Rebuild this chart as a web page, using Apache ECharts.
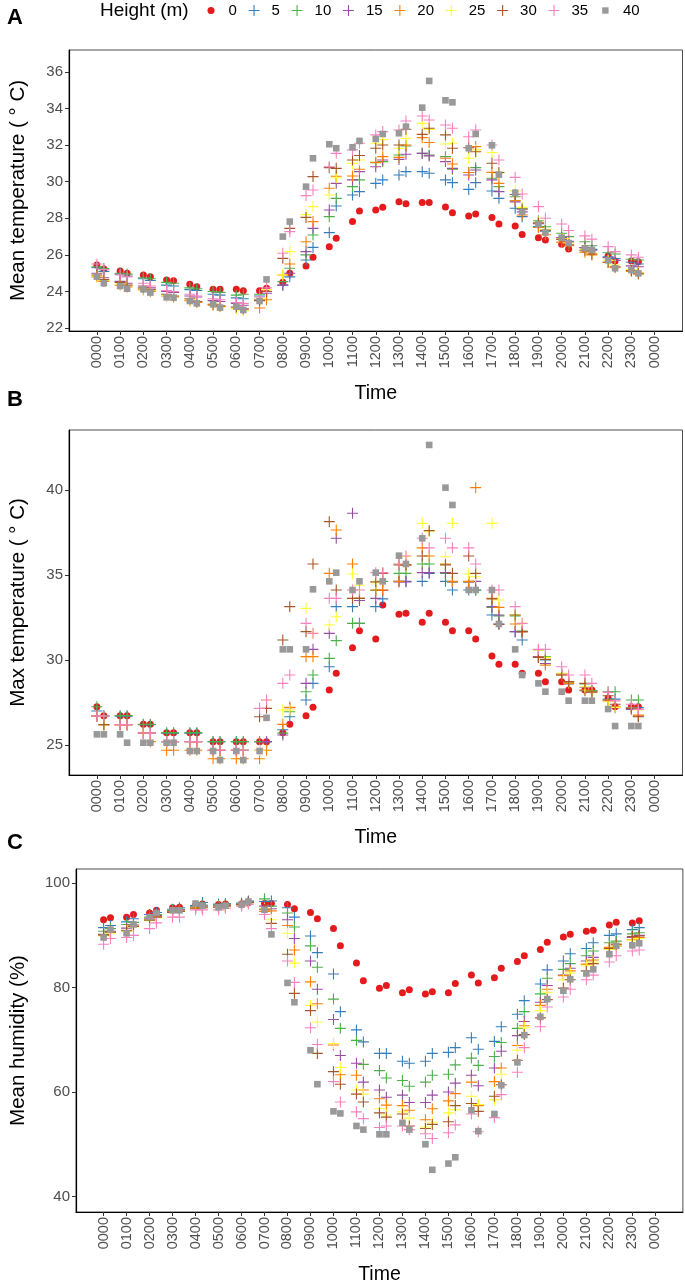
<!DOCTYPE html>
<html><head><meta charset="utf-8">
<script src="https://cdn.jsdelivr.net/npm/echarts@6/dist/echarts.min.js"></script>
<style>html,body{margin:0;padding:0;background:#fff}#c{width:685px;height:1286px}</style>
</head><body><div id="c"></div>
<script>
// ---------- data ----------
const times = ['0000','0030','0100','0130','0200','0230','0300','0330','0400','0430','0500','0530','0600','0630','0700','0730','0800','0830','0900','0930','1000','1030','1100','1130','1200','1230','1300','1330','1400','1430','1500','1530','1600','1630','1700','1730','1800','1830','1900','1930','2000','2030','2100','2130','2200','2230','2300','2330'];
const heights = ['0','5','10','15','20','25','30','35','40'];
const xTickValues = [0,100,200,300,400,500,600,700,800,900,1000,1100,1200,1300,1400,1500,1600,1700,1800,1900,2000,2100,2200,2300,2400];
const xTickLabels = ['0000','0100','0200','0300','0400','0500','0600','0700','0800','0900','1000','1100','1200','1300','1400','1500','1600','1700','1800','1900','2000','2100','2200','2300','0000'];
const yTicksMean = [22,24,26,28,30,32,34,36];
const yTicksMax = [25,30,35,40];
const yTicksHum = [40,60,80,100];

// Panel A: mean temperature
const meanT_0 = [25.45,25.23,25.12,24.99,24.90,24.81,24.63,24.59,24.39,24.26,24.12,24.12,24.12,24.04,24.04,24.17,24.50,24.99,25.39,25.87,26.45,26.91,27.82,28.40,28.45,28.60,28.91,28.80,28.86,28.87,28.62,28.30,28.13,28.24,28.04,27.69,27.58,27.12,26.94,26.81,26.58,26.32,26.30,26.16,25.94,25.67,25.67,25.63];
const meanT_5 = [25.3,25.1,24.95,24.85,24.7,24.6,24.35,24.3,24.1,24.05,23.85,23.8,23.65,23.6,23.75,24.0,24.35,24.8,25.72,26.41,27.22,28.67,29.27,29.46,29.91,30.10,30.37,30.55,30.55,30.46,30.10,29.95,29.58,29.95,29.49,29.09,28.55,28.09,27.55,27.3,26.9,26.7,26.4,26.3,25.9,25.8,25.6,25.5];
const meanT_10 = [25.35,25.25,25.0,24.95,24.75,24.7,24.5,24.45,24.2,24.15,24.0,23.95,23.8,23.85,23.85,24.1,24.54,25.27,26.0,27.09,28.09,29.09,29.73,30.1,31.04,31.1,31.46,31.95,31.55,31.46,31.37,30.68,30.50,30.77,30.19,29.73,29.18,28.55,27.87,27.54,27.18,27.0,26.72,26.5,26.12,26.05,25.76,25.72];
const meanT_15 = [25.0,24.75,24.55,24.45,24.3,24.2,24.0,23.95,23.75,23.7,23.5,23.45,23.35,23.25,23.55,23.9,24.35,25.0,26.18,27.45,28.45,29.91,30.1,30.55,30.82,31.19,31.22,31.5,31.55,31.41,31.10,30.73,30.37,30.64,30.1,29.46,28.9,28.35,27.7,27.35,26.95,26.75,26.4,26.25,25.85,25.7,25.4,25.35];
const meanT_20 = [24.8,24.55,24.35,24.25,24.1,24.0,23.75,23.7,23.5,23.4,23.25,23.2,23.1,23.0,23.1,23.55,24.9,25.5,26.72,27.82,29.64,30.3,30.31,30.68,31.06,31.37,31.33,32.01,32.41,32.14,31.28,30.97,30.50,31.92,30.51,29.91,28.97,28.18,27.5,27.1,26.7,26.5,26.15,26.0,25.6,25.3,25.1,24.95];
const meanT_25 = [24.85,24.6,24.4,24.3,24.15,24.05,23.8,23.75,23.55,23.45,23.3,23.15,23.05,22.95,23.6,24.1,24.9,26.18,28.2,28.64,29.27,30.22,31.0,31.19,32.1,32.3,31.83,32.37,33.19,32.86,32.06,32.1,31.28,31.74,31.6,30.46,29.5,28.6,27.8,27.4,26.9,26.65,26.3,26.1,25.7,25.45,25.2,25.05];
const meanT_30 = [24.9,24.65,24.5,24.35,24.2,24.1,23.85,23.75,23.6,23.45,23.3,23.2,23.15,23.05,23.5,24.0,25.81,27.45,28.05,30.28,30.77,30.73,31.19,31.43,31.83,32.01,32.01,32.87,32.59,32.92,32.56,31.83,31.86,31.64,31.01,30.50,29.3,28.5,27.75,27.35,26.85,26.55,26.25,26.05,25.6,25.35,25.15,25.0];
const meanT_35 = [25.5,25.2,24.9,24.8,24.45,24.3,24.05,24.0,23.85,23.75,23.6,23.55,23.4,23.35,23.7,24.2,26.09,27.27,29.24,29.55,30.82,31.55,31.74,32.1,32.56,32.74,32.83,33.32,33.59,33.37,33.10,32.92,32.46,32.83,32.01,31.19,30.24,29.33,28.64,28.00,27.69,27.33,27.04,26.86,26.45,26.18,26.0,25.87];
const meanT_40 = [24.81,24.45,24.30,24.15,24.12,23.94,23.68,23.66,23.48,23.35,23.30,23.12,23.17,22.99,23.48,24.66,27.0,27.82,29.73,31.28,32.05,31.83,31.88,32.23,32.34,32.61,32.65,33.01,34.05,35.51,34.45,34.34,31.83,32.61,31.99,30.39,29.40,28.35,27.67,27.22,26.94,26.65,26.36,26.27,25.70,25.27,25.17,24.99];

// Panel B: max temperature
const maxT_0 = [27.25,26.73,26.73,26.73,26.22,26.22,25.73,25.73,25.73,25.73,25.20,25.20,25.20,25.20,25.20,25.20,25.73,26.22,26.73,27.22,28.24,29.22,30.73,31.73,31.24,33.24,32.70,32.75,32.22,32.75,32.22,31.73,31.73,31.24,30.24,29.75,29.75,29.22,29.22,28.73,28.73,28.24,28.24,28.24,27.75,27.25,27.25,27.25];
const maxT_5 = [27.0,26.7,26.7,26.7,26.2,26.2,25.7,25.7,25.7,25.7,25.2,25.2,25.2,25.2,25.2,25.2,25.9,26.67,27.65,28.63,29.61,33.14,33.14,32.16,33.14,33.6,34.63,34.63,34.63,35.1,34.63,34.12,34.12,34.12,32.65,32.12,31.67,31.18,30.2,30.0,29.2,28.7,28.2,28.2,27.7,27.7,27.2,27.2];
const maxT_10 = [27.25,26.73,26.73,26.73,26.22,26.22,25.73,25.73,25.73,25.73,25.2,25.2,25.2,25.2,25.2,25.2,25.7,26.96,28.14,29.12,30.1,31.14,32.16,32.16,34.1,34.63,35.1,35.1,35.65,35.65,35.1,34.6,34.6,34.1,33.1,32.6,32.6,31.7,30.6,30.2,29.2,28.7,28.6,28.2,28.14,28.14,27.65,27.65];
const maxT_15 = [26.7,26.2,26.2,26.2,25.7,25.7,25.2,25.2,25.2,25.2,24.7,24.7,24.7,24.7,24.7,25.2,25.59,27.2,28.63,30.63,31.57,37.16,38.63,33.5,33.63,34.1,34.6,34.6,35.14,35.14,35.14,34.6,34.6,34.63,33.14,32.65,31.67,31.67,30.2,29.8,29.2,28.6,28.4,28.1,27.6,27.2,27.1,26.7];
const maxT_20 = [26.7,26.2,26.2,26.2,25.7,25.2,24.7,24.7,24.7,24.7,24.2,24.2,24.2,24.2,24.2,24.7,26.22,27.22,30.2,30.2,35.1,37.65,35.65,33.63,34.12,34.12,34.63,35.6,36.6,36.12,35.65,34.63,34.63,40.14,33.63,33.1,32.12,31.67,30.16,29.7,29.12,28.63,28.24,28.14,27.65,27.25,27.16,26.76];
const maxT_25 = [26.7,26.2,26.2,26.2,25.7,25.7,25.2,25.2,25.2,25.2,24.7,24.7,24.7,24.7,24.7,27.65,27.06,27.06,33.04,31.57,32.06,32.55,35.06,34.4,34.55,35.14,35.65,36.1,38.04,37.55,36.08,38.04,35.06,34.9,38.04,33.53,32.65,32.16,30.59,30.16,29.22,28.73,28.43,28.14,27.55,27.22,27.16,27.06];
const maxT_30 = [26.7,26.2,26.2,26.2,25.7,25.7,25.2,25.2,25.2,25.2,24.7,24.7,24.7,24.7,26.67,27.16,31.18,33.14,31.67,35.65,38.14,34.12,33.63,33.63,34.6,35.1,35.6,35.6,36.12,37.61,35.6,35.1,36.12,35.1,33.6,32.1,32.65,31.67,30.16,30.04,29.12,28.73,28.63,28.14,27.9,27.4,27.16,26.67];
const maxT_35 = [26.7,26.7,26.2,26.2,25.7,25.7,25.2,25.2,25.2,25.2,24.7,24.7,24.7,24.7,27.16,27.65,28.63,29.12,32.16,31.57,33.63,33.63,34.12,34.12,35.14,35.14,35.65,36.12,37.16,36.6,37.16,36.6,36.6,35.65,34.12,34.12,33.14,32.16,30.63,30.63,29.61,29.12,29.12,28.63,28.1,27.6,27.4,27.1];
const maxT_40 = [25.63,25.63,25.63,25.14,25.14,25.14,25.14,25.14,24.65,24.65,24.65,24.12,24.65,24.12,24.65,26.6,30.63,30.63,30.63,34.16,34.63,35.14,34.12,34.63,35.14,34.63,36.14,35.65,37.16,42.65,40.14,39.12,34.12,34.12,34.12,32.12,30.63,29.12,28.63,28.14,28.14,27.61,27.61,27.61,27.12,26.12,26.12,26.12];

// Panel C: mean humidity
const hum_0 = [93.0,93.4,93.5,94.0,94.3,94.8,95.3,95.4,95.8,96.0,95.9,96.0,96.0,96.3,96.1,96.1,95.9,95.1,94.4,93.2,91.3,88.0,84.7,81.3,79.9,80.4,79.0,79.6,78.8,79.2,79.0,80.8,82.4,80.9,81.9,83.7,85.0,86.1,87.3,88.7,89.7,90.2,90.8,91.0,92.0,92.5,92.4,92.8];
const hum_5 = [91.5,91.9,92.6,93.2,94.0,94.4,95.0,95.3,95.7,96.3,96.0,96.1,96.0,96.6,96.5,96.6,95.3,93.5,89.9,86.7,82.6,75.4,71.9,69.6,67.4,67.4,65.9,65.5,65.9,67.4,67.6,68.5,70.4,68.2,69.7,72.5,74.9,77.5,80.7,83.4,85.1,86.5,87.5,88.6,90.0,90.3,91.1,91.5];
const hum_10 = [90.8,91.3,92.1,92.5,93.5,94.0,94.8,95.0,95.5,95.8,95.8,96.0,96.2,96.5,97.0,95.6,94.3,91.6,88.0,83.9,77.8,72.2,69.9,65.3,64.1,62.7,62.2,61.1,61.9,63.2,63.4,65.2,66.5,65.1,66.8,69.5,72.2,75.4,78.8,81.8,83.5,84.6,86.1,87.0,88.6,88.9,90.3,90.5];
const hum_15 = [90.2,90.8,91.4,92.0,93.2,93.8,94.6,94.9,95.4,95.6,95.6,95.8,96.0,96.4,95.6,95.1,93.0,89.4,85.1,79.7,73.9,67.0,65.5,61.9,60.4,59.0,59.4,58.0,58.0,59.4,60.0,61.7,63.2,61.2,64.6,67.8,70.8,73.5,77.2,80.4,82.4,83.7,85.1,85.8,87.3,88.0,89.6,90.0];
const hum_20 = [90.0,90.6,91.0,91.8,93.0,93.6,94.5,94.7,95.3,95.4,95.5,95.6,95.9,96.3,94.6,94.7,91.9,87.2,81.1,76.9,69.0,63.3,63.2,60.4,58.7,57.5,57.4,56.5,54.7,56.8,58.3,59.7,61.9,57.4,62.0,64.6,68.9,72.7,76.6,79.7,82.3,83.2,84.5,85.3,87.7,88.3,89.2,89.6];
const hum_25 = [89.9,90.4,90.8,91.6,92.8,93.4,94.4,94.6,95.2,95.3,95.4,95.5,95.8,96.2,95.2,93.0,90.4,84.7,76.6,73.4,69.3,64.7,60.4,59.6,56.8,55.6,56.2,55.0,53.3,54.2,56.0,56.6,59.2,57.6,58.5,63.4,68.0,72.3,75.6,79.1,81.5,82.8,84.2,84.9,87.3,88.0,89.1,89.4];
const hum_30 = [90.1,90.6,90.9,91.7,92.9,93.5,94.4,94.6,95.2,95.3,95.4,95.6,95.9,96.3,95.0,92.3,86.4,78.9,75.6,67.4,63.9,61.5,59.6,58.1,56.0,55.2,55.8,53.5,53.0,53.8,54.3,57.4,57.8,56.3,59.2,61.4,66.1,71.0,74.2,77.7,79.9,81.5,83.2,84.6,87.5,88.3,89.8,89.9];
const hum_35 = [88.3,89.4,89.6,90.0,91.3,92.4,93.5,93.5,94.9,94.9,94.9,95.2,95.6,96.0,94.0,91.3,85.1,81.0,72.3,69.1,62.0,58.1,56.2,54.9,53.2,53.5,53.5,52.8,52.0,51.1,52.2,53.7,55.8,52.4,55.1,59.5,63.8,68.5,72.5,76.3,78.2,79.7,81.5,82.4,84.9,86.1,87.0,87.2];
const hum_40 = [89.6,91.1,90.4,92.1,93.5,94.3,94.8,94.8,96.1,95.7,95.4,95.7,95.9,96.5,94.9,90.2,80.9,77.2,68.0,61.5,56.3,55.9,53.5,52.8,51.9,51.9,54.1,52.8,50.0,45.1,46.3,47.5,56.5,52.5,55.8,61.3,65.7,70.9,74.4,77.8,79.4,81.6,82.7,83.5,86.4,88.0,88.1,88.5];

const panelA = [meanT_0,meanT_5,meanT_10,meanT_15,meanT_20,meanT_25,meanT_30,meanT_35,meanT_40];
const panelB = [maxT_0,maxT_5,maxT_10,maxT_15,maxT_20,maxT_25,maxT_30,maxT_35,maxT_40];
const panelC = [hum_0,hum_5,hum_10,hum_15,hum_20,hum_25,hum_30,hum_35,hum_40];

// ---------- style ----------
const FONT = "'Liberation Sans', Arial, Helvetica, sans-serif";
const colors = ['#E41A1C','#377EB8','#4DAF4A','#984EA3','#FF7F00','#FFFF33','#A65628','#F781BF','#999999'];
const PLUS = 'path://M-0.1,-1H0.1V-0.1H1V0.1H0.1V1H-0.1V0.1H-1V-0.1H-0.1Z';
const DOT_ICON = 'path://M-1,-1M1,1M0.64,0A0.64,0.64,0,1,1,-0.64,0A0.64,0.64,0,1,1,0.64,0Z';
const SQ_ICON = 'path://M-1,-1M1,1M-0.58,-0.58H0.58V0.58H-0.58Z';
const symbolFor = i => i === 0 ? 'circle' : (i === 8 ? 'rect' : PLUS);
const sizeFor = i => i === 0 ? 7 : (i === 8 ? 6.6 : 11);
const iconFor = i => i === 0 ? DOT_ICON : (i === 8 ? SQ_ICON : PLUS);

const grids = [
  {left:60, top:50, width:622.5, height:281},
  {left:60, top:430, width:622.5, height:345},
  {left:69.4, top:869, width:613.5, height:346}
];
const yDefs = [
  {min:21.84, max:37.2, ticks:yTicksMean, name:'Mean temperature ( \u00B0 C)', gap:40},
  {min:23.24, max:43.53, ticks:yTicksMax, name:'Max temperature ( \u00B0 C)', gap:40},
  {min:37.02, max:102.72, ticks:yTicksHum, name:'Mean humidity (%)', gap:47}
];

const xAxes = grids.map((g,i) => ({
  type:'value', gridIndex:i, min:-120, max:2520,
  name:'Time', nameLocation:'middle', nameGap:53,
  nameTextStyle:{fontSize:19.5, color:'#000', fontFamily:FONT},
  axisLine:{show:true, onZero:false, lineStyle:{color:'#000', width:1.2}},
  axisTick:{show:true, customValues:xTickValues, length:4, lineStyle:{color:'#333'}},
  axisLabel:{show:true, customValues:xTickValues, rotate:90, margin:5, fontSize:14.5, color:'#4d4d4d', fontFamily:FONT,
    formatter: v => xTickLabels[xTickValues.indexOf(v)] },
  splitLine:{show:false}
}));
const yAxes = yDefs.map((d,i) => ({
  type:'value', gridIndex:i, min:d.min, max:d.max,
  name:d.name, nameLocation:'middle', nameGap:d.gap,
  nameTextStyle:{fontSize:20.5, color:'#000', fontFamily:FONT},
  axisLine:{show:true, onZero:false, lineStyle:{color:'#000', width:1.2}},
  axisTick:{show:true, customValues:d.ticks, length:4, lineStyle:{color:'#333'}},
  axisLabel:{show:true, customValues:d.ticks, margin:6, fontSize:15, color:'#4d4d4d', fontFamily:FONT},
  splitLine:{show:false}
}));

const series = [];
[panelA, panelB, panelC].forEach((panel, p) => {
  panel.forEach((arr, i) => {
    series.push({
      type:'scatter', name:heights[i], xAxisIndex:p, yAxisIndex:p,
      symbol:symbolFor(i), symbolSize:sizeFor(i),
      itemStyle:{color:colors[i], opacity:1},
      emphasis:{disabled:true},
      data: times.map((t,k) => [Number(t), arr[k]])
    });
  });
});

const option = {
  animation:false,
  backgroundColor:'#fff',
  textStyle:{fontFamily:FONT},
  title:[
    {text:'Height (m)', left:100, top:1, padding:0, textStyle:{fontSize:19, fontWeight:'normal', color:'#000', fontFamily:FONT}},
    {text:'A', left:7, top:7, padding:0, textStyle:{fontSize:22, fontWeight:'bold', color:'#000', fontFamily:FONT}},
    {text:'B', left:7, top:389, padding:0, textStyle:{fontSize:22, fontWeight:'bold', color:'#000', fontFamily:FONT}},
    {text:'C', left:7, top:832, padding:0, textStyle:{fontSize:22, fontWeight:'bold', color:'#000', fontFamily:FONT}}
  ],
  legend:{
    left:205.5, top:3, padding:0, itemWidth:11, itemHeight:11, itemGap:11.7,
    selectedMode:false,
    textStyle:{fontSize:15, color:'#000', fontFamily:FONT, padding:[0,0,0,7]},
    data: heights.map((h,i) => ({name:h, icon:iconFor(i)}))
  },
  grid: grids.map(g => Object.assign({show:true, borderColor:'#4d4d4d', borderWidth:1, containLabel:false}, g)),
  xAxis:xAxes,
  yAxis:yAxes,
  series:series
};
const chart = echarts.init(document.getElementById('c'));
chart.setOption(option);
</script>
</body></html>
